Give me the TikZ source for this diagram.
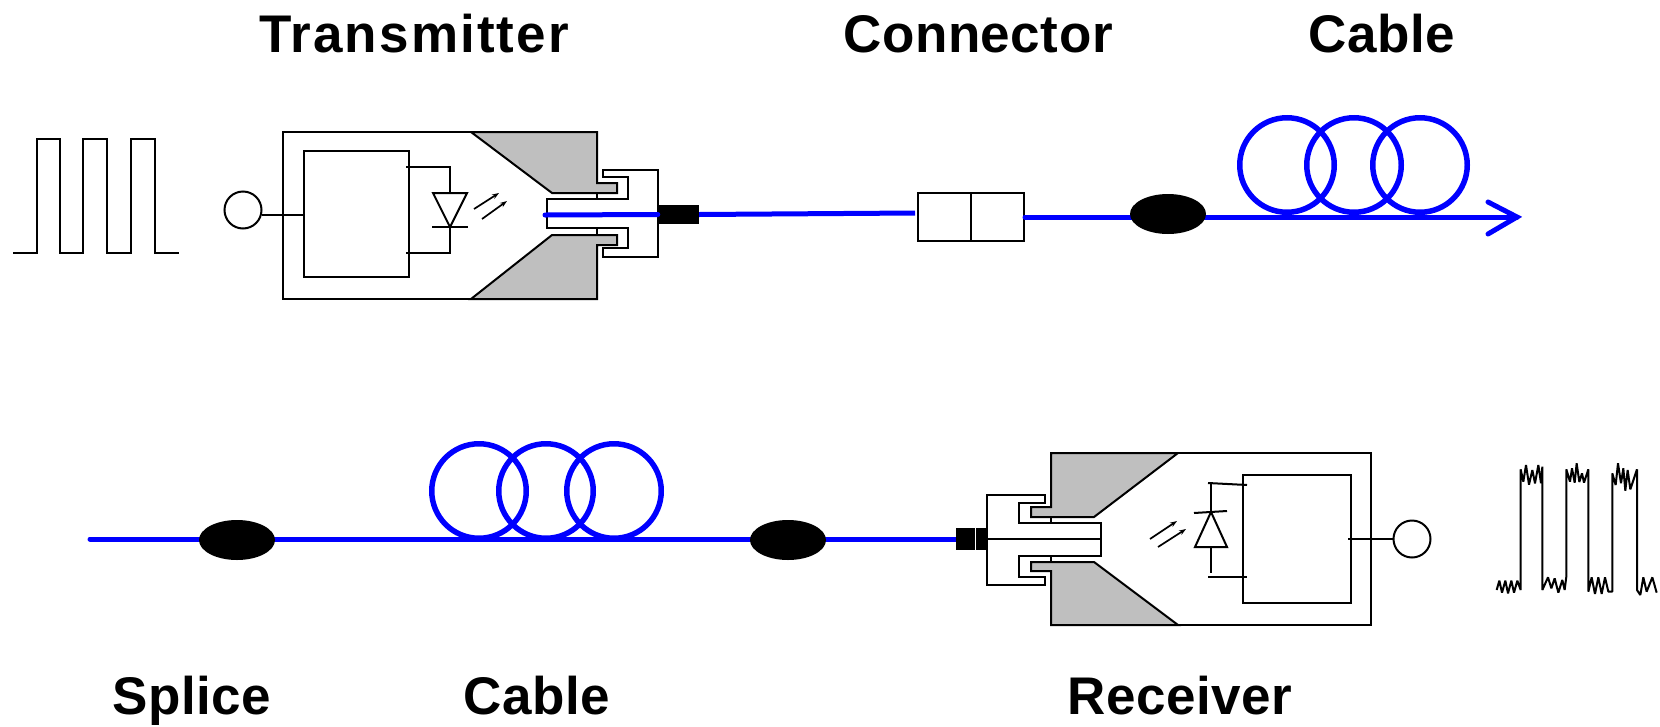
\documentclass[tikz,border=0pt]{standalone}
\usepackage{fontspec}
\setmainfont{Liberation Sans}
\newfontfamily\labfont[LetterSpace=1,Ligatures=NoCommon]{Liberation Sans Bold}
\newfontfamily\labfontw[LetterSpace=4,Ligatures=NoCommon]{Liberation Sans Bold}
\usetikzlibrary{shapes.geometric,arrows.meta}
\definecolor{fib}{HTML}{0000FF}
\definecolor{gry}{HTML}{BFBFBF}
\tikzset{
  ln/.style={draw=black,line width=2pt,line join=miter},
  body/.style={ln,fill=white},
  wedge/.style={ln,fill=gry},
  fibre/.style={draw=fib,line width=5pt,line cap=round},
  ringl/.style={draw=fib,line width=5.5pt,circle,minimum size=94.5pt,inner sep=0pt},
  splice/.style={ellipse,fill=black,minimum width=76pt,minimum height=40pt,inner sep=0pt},
  port/.style={circle,draw=black,line width=2pt,fill=white,minimum size=37pt,inner sep=0pt},
  boot/.style={fill=black,inner sep=0pt},
  lab/.style={font=\fontsize{53}{53}\labfont,inner sep=0pt,anchor=base},
  labw/.style={font=\fontsize{53}{53}\labfontw,inner sep=0pt,anchor=base},
  ray/.style={draw=black,line width=1.7pt,-{Stealth[length=7pt,width=5pt]}},
}
\begin{document}
\begin{tikzpicture}[x=1pt,y=-1pt]
\useasboundingbox (0,0) rectangle (1660,726);
\fill[white] (0,0) rectangle (1660,726);
% labels
\node[labw] (tTx) at (414,52) {Transmitter};
\node[lab] (tCon) at (978,52) {Connector};
\node[lab] (tCab) at (1382,52) {Cable};
\node[lab] (tSpl) at (192,714) {Splice};
\node[lab] (tCab2) at (537,714) {Cable};
\node[lab] (tRx) at (1180,714) {Receiver};
% clean signal
\draw[ln] (13,253)--(37,253)--(37,139)--(60,139)--(60,253)--(83,253)--(83,139)--(107,139)--(107,253)--(131,253)--(131,139)--(155,139)--(155,253)--(179,253);
% transmitter
\draw[body] (283,132) rectangle (597,299);
\draw[wedge] (471,132)--(597,132)--(597,183)--(617,183)--(617,193)--(552,193)--cycle;
\draw[wedge] (471,299)--(597,299)--(597,245)--(617,245)--(617,235)--(552,235)--cycle;
\draw[body] (603,170)--(658,170)--(658,257)--(603,257)--(603,248)--(628,248)--(628,228)--(547,228)--(547,199)--(628,199)--(628,177)--(603,177)--cycle;
\draw[ln] (304,151) rectangle (409,277);
\node[port] (txp) at (243,210) {};
\coordinate (txw) at (304,215);
\draw[ln] (txp.-15) -- (txp.-15 -| txw);
\draw[ln] (406,167)--(450,167)--(450,193);
\draw[ln] (433,193)--(467,193)--(450,227)--cycle;
\draw[ln] (432,227)--(468,227);
\draw[ln] (450,227)--(450,253)--(406,253);
\draw[ray] (474,209)--(499,193);
\draw[ray] (482,219)--(507,201);
% transmitter fibre
\coordinate (fs) at (545,215);
\coordinate (fe) at (915,213);
\node[boot,minimum width=41pt,minimum height=19pt] (btx) at (678.5,214.5) {};
\node[draw=black,line width=2pt,fill=white,minimum width=106pt,minimum height=48pt,inner sep=0pt] (con) at (971,217) {};
\draw[ln] (con.north) -- (con.south);
\draw[fibre,line cap=butt] (btx.east) -- (fe);
\draw[fibre] (fs) -- (btx.west);
% first cable
\node[ringl] (r1) at (1287,165) {};
\node[ringl] (r2) at (1354,165) {};
\node[ringl] (r3) at (1420,165) {};
\coordinate (tip) at (1517,217);
\coordinate (b1) at (1488,202);
\coordinate (b2) at (1488,234);
\draw[fibre] (con.east) -- (tip);
\draw[fibre,line join=miter] (b1) -- (tip) -- (b2);
\node[splice] (s1) at (1168,214) {};
% second row
\node[ringl] (r4) at (479,491) {};
\node[ringl] (r5) at (546,491) {};
\node[ringl] (r6) at (614,491) {};
\coordinate (fb) at (90,539);
\node[boot,minimum width=32pt,minimum height=22pt] (brx) at (972,539) {};
\draw[fibre] (fb) -- (brx.west);
\node[splice] (s2) at (237,540) {};
\node[splice] (s3) at (788,540) {};
% receiver
\draw[body] (1051,453) rectangle (1371,625);
\draw[wedge] (1178,453)--(1051,453)--(1051,507)--(1031,507)--(1031,517)--(1094,517)--cycle;
\draw[wedge] (1178,625)--(1051,625)--(1051,571)--(1031,571)--(1031,562)--(1094,562)--cycle;
\draw[body] (1045,495)--(987,495)--(987,585)--(1045,585)--(1045,577)--(1019,577)--(1019,556)--(1101,556)--(1101,523)--(1019,523)--(1019,503)--(1045,503)--cycle;
\draw[ln] (brx.east) -- (1101,539);
\node[boot,minimum width=32pt,minimum height=22pt] at (972,539) {};
\draw[white,line width=.6pt] (975,528)--(975,550);
\draw[ln] (1243,475) rectangle (1351,603);
\draw[ln] (1208,483)--(1247,485);
\draw[ln] (1211,483)--(1211,512);
\draw[ln] (1194,513)--(1227,511);
\draw[ln] (1211,512)--(1227,547)--(1195,547)--cycle;
\draw[ln] (1211,547)--(1211,573);
\draw[ln] (1208,577)--(1247,577);
\draw[ray] (1150,539)--(1177,521);
\draw[ray] (1158,547)--(1186,529);
\node[port] (rxp) at (1412,539) {};
\coordinate (rxw) at (1348,539);
\draw[ln] (rxw) -- (rxp.west);
% noisy signal
\begin{scope}[shift={(1480,450)},xscale=.3333,yscale=.3333]
\draw[line width=2pt,line join=bevel] (50,420)--(58,392)--(66,428)--(76,392)--(84,430)--(94,392)--(102,428)--(112,392)--(122,420)--(122,95)
  --(122,58)--(130,95)--(138,45)--(147,104)--(157,60)--(165,100)--(175,45)--(183,100)--(187,50)--(187,420)
  --(204,382)--(214,415)--(224,385)--(235,428)--(247,390)--(254,420)--(259,380)--(259,58)
  --(270,95)--(276,55)--(284,98)--(290,40)--(298,96)--(306,70)--(312,98)--(325,58)--(325,425)
  --(335,382)--(345,432)--(355,382)--(365,432)--(375,382)--(385,425)--(397,425)--(397,70)
  --(407,105)--(414,40)--(423,100)--(430,55)--(436,122)--(443,60)--(451,118)--(471,58)--(471,420)
  --(481,435)--(490,382)--(500,425)--(517,382)--(530,428);
\end{scope}
\end{tikzpicture}
\end{document}
